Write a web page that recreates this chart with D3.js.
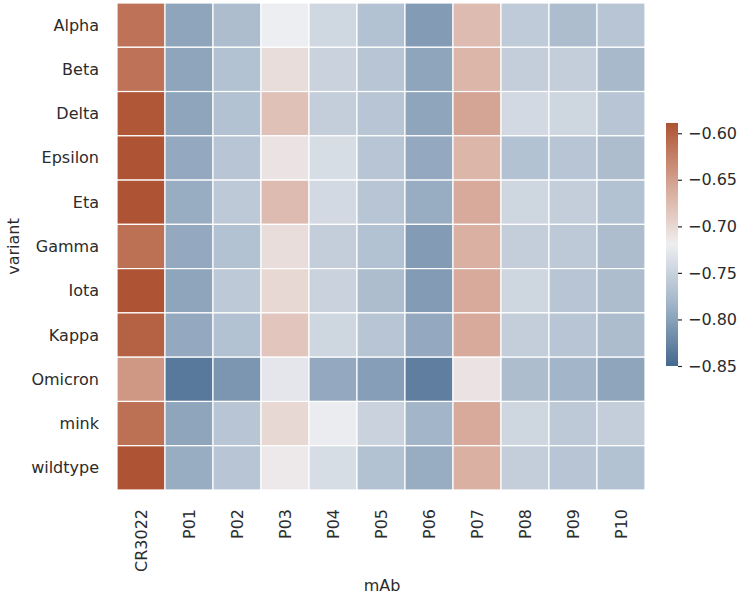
<!DOCTYPE html>
<html><head><meta charset="utf-8">
<script src="https://cdn.jsdelivr.net/npm/d3@7"></script>
<style>body{margin:0;background:#fff;}text{font-family:"DejaVu Sans",sans-serif;fill:#2b2b2b;}</style>
</head><body>
<svg id="chart" width="748" height="597"></svg>
<script>
const mAbs = ["CR3022","P01","P02","P03","P04","P05","P06","P07","P08","P09","P10"];
const variants = ["Alpha","Beta","Delta","Epsilon","Eta","Gamma","Iota","Kappa","Omicron","mink","wildtype"];
const values = [
  [-0.615,-0.797,-0.773,-0.720,-0.745,-0.768,-0.805,-0.675,-0.758,-0.773,-0.765],
  [-0.615,-0.797,-0.768,-0.705,-0.750,-0.765,-0.797,-0.670,-0.755,-0.755,-0.778],
  [-0.592,-0.797,-0.768,-0.680,-0.755,-0.765,-0.797,-0.655,-0.742,-0.746,-0.765],
  [-0.590,-0.793,-0.765,-0.710,-0.738,-0.765,-0.793,-0.670,-0.768,-0.765,-0.773],
  [-0.590,-0.790,-0.760,-0.675,-0.742,-0.765,-0.790,-0.660,-0.746,-0.755,-0.768],
  [-0.612,-0.793,-0.768,-0.705,-0.755,-0.768,-0.805,-0.665,-0.755,-0.760,-0.773],
  [-0.590,-0.797,-0.760,-0.700,-0.750,-0.773,-0.805,-0.660,-0.746,-0.765,-0.773],
  [-0.600,-0.793,-0.768,-0.685,-0.746,-0.765,-0.793,-0.660,-0.755,-0.765,-0.773],
  [-0.645,-0.835,-0.810,-0.728,-0.793,-0.803,-0.830,-0.710,-0.773,-0.782,-0.797],
  [-0.612,-0.797,-0.765,-0.700,-0.722,-0.750,-0.782,-0.660,-0.746,-0.760,-0.755],
  [-0.590,-0.790,-0.765,-0.715,-0.738,-0.768,-0.790,-0.665,-0.755,-0.765,-0.768]
];
const colorTicks = [-0.60,-0.65,-0.70,-0.75,-0.80,-0.85];
const vmin = -0.85, vmax = -0.589;
const colorStops = ["#44698f","#9fb3c7","#eeeef1","#d4a493","#ad5333"];

const svg = d3.select("#chart");
const pLeft = 117, pRight = 645, pTop = 3, pBottom = 490;

const x = d3.scaleBand().domain(mAbs).range([pLeft, pRight]).padding(0);
const y = d3.scaleBand().domain(variants).range([pTop, pBottom]).padding(0);
const interp = d3.piecewise(d3.interpolateLab, colorStops);
const color = d3.scaleSequential(interp).domain([vmin, vmax]).clamp(true);

const cells = [];
variants.forEach((v, i) => mAbs.forEach((m, j) => cells.push({v, m, val: values[i][j]})));

svg.append("g").selectAll("rect").data(cells).join("rect")
  .attr("x", d => x(d.m)).attr("y", d => y(d.v))
  .attr("width", x.bandwidth()).attr("height", y.bandwidth())
  .attr("fill", d => color(d.val))
  .attr("stroke", "#ffffff").attr("stroke-width", 1.2);

svg.append("g").selectAll("text").data(variants).join("text")
  .attr("x", pLeft - 18).attr("y", d => y(d) + y.bandwidth()/2)
  .attr("text-anchor", "end").attr("dominant-baseline", "central")
  .attr("font-size", 16).text(d => d);

svg.append("g").selectAll("text").data(mAbs).join("text")
  .attr("transform", d => `translate(${x(d) + x.bandwidth()/2},${pBottom + 19}) rotate(-90)`)
  .attr("text-anchor", "end").attr("dominant-baseline", "central")
  .attr("font-size", 16).text(d => d);

svg.append("text").attr("x", (pLeft + pRight)/2 + 1).attr("y", 591)
  .attr("text-anchor", "middle").attr("font-size", 16).text("mAb");
svg.append("text").attr("transform", `translate(19,${(pTop + pBottom)/2}) rotate(-90)`)
  .attr("text-anchor", "middle").attr("font-size", 16).text("variant");

const cbX = 666, cbW = 12, cbTop = 123, cbBottom = 366;
const cy = d3.scaleLinear().domain([vmin, vmax]).range([cbBottom, cbTop]);
const defs = svg.append("defs");
const grad = defs.append("linearGradient").attr("id", "cbgrad")
  .attr("x1", 0).attr("y1", 1).attr("x2", 0).attr("y2", 0);
d3.range(0, 1.0001, 0.05).forEach(t => {
  grad.append("stop").attr("offset", t).attr("stop-color", color(vmin + t*(vmax - vmin)));
});
svg.append("rect").attr("x", cbX).attr("y", cbTop).attr("width", cbW)
  .attr("height", cbBottom - cbTop).attr("fill", "url(#cbgrad)");
const cAxis = d3.axisRight(cy).tickValues(colorTicks).tickSize(4).tickPadding(6)
  .tickFormat(d => d3.format(".2f")(d).replace("-", "\u2212"));
const ga = svg.append("g").attr("transform", `translate(${cbX + cbW},0)`).call(cAxis);
ga.select(".domain").remove();
ga.selectAll("line").attr("stroke", "#2b2b2b").attr("stroke-width", 1.2);
ga.selectAll("text").attr("font-size", 16).attr("font-family", "DejaVu Sans").attr("fill", "#2b2b2b");
</script>
</body></html>
